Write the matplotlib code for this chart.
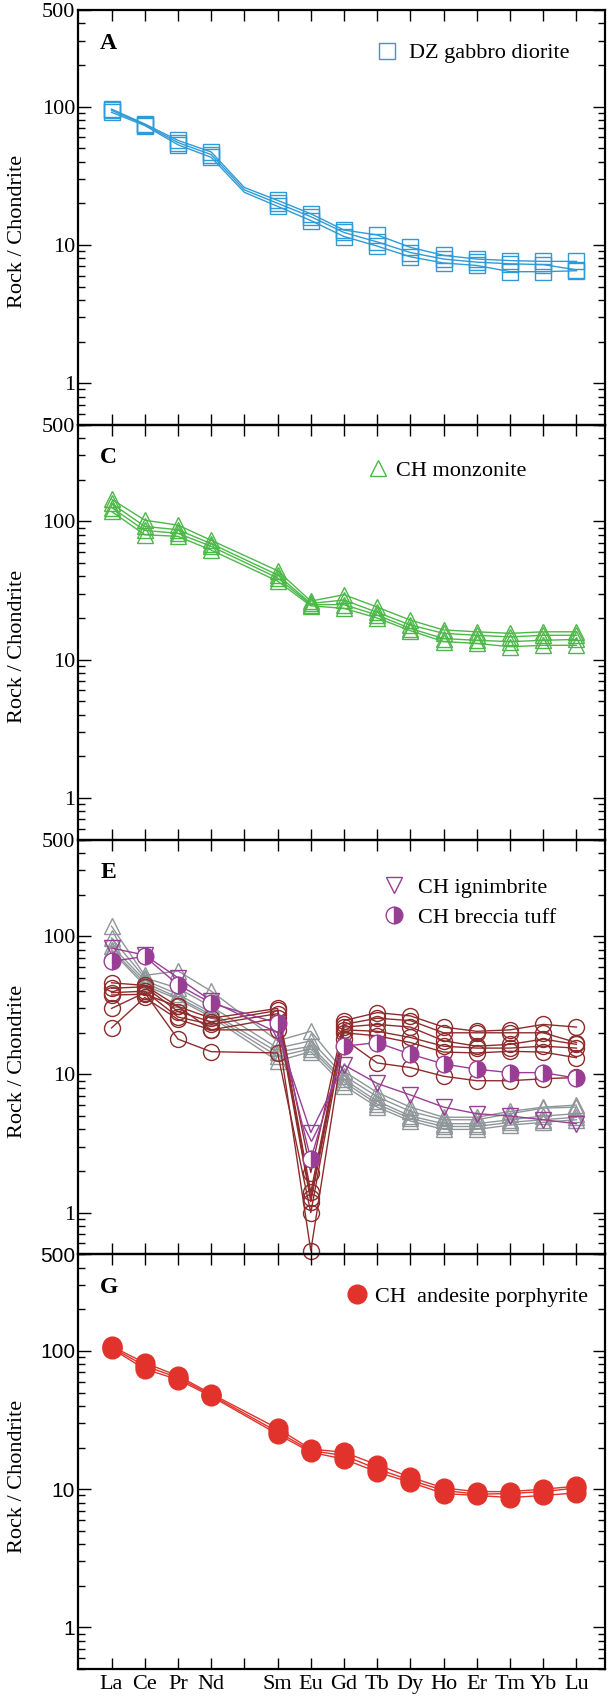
import numpy as np
import matplotlib.pyplot as plt
from matplotlib.lines import Line2D
from matplotlib.ticker import FixedLocator, LogLocator, NullFormatter, FixedFormatter

plt.rcParams['font.family'] = ['Liberation Serif', 'DejaVu Serif']

ree = ['La', 'Ce', 'Pr', 'Nd', 'Pm', 'Sm', 'Eu', 'Gd', 'Tb', 'Dy', 'Ho', 'Er', 'Tm', 'Yb', 'Lu']
ree_no_pm = ['La', 'Ce', 'Pr', 'Nd', 'Sm', 'Eu', 'Gd', 'Tb', 'Dy', 'Ho', 'Er', 'Tm', 'Yb', 'Lu']
tick_labels = ['La', 'Ce', 'Pr', 'Nd', '', 'Sm', 'Eu', 'Gd', 'Tb', 'Dy', 'Ho', 'Er', 'Tm', 'Yb', 'Lu']
y_ticks = [1, 10, 100, 500]
y_tick_labels = ['1', '10', '100', '500']

# A - DZ gabbro diorite (La..Lu with Pm)
dz_gabbro = [
    [96, 75, 57, 47, 26, 21, 16.8, 12.8, 11.8, 9.6, 8.4, 7.9, 7.7, 7.6, 7.6],
    [94, 74, 55, 45, 25, 20, 16.0, 12.3, 10.5, 8.8, 7.9, 7.5, 7.3, 7.2, 6.6],
    [91, 73, 53, 43, 24, 19, 15.0, 11.5, 9.8, 8.2, 7.4, 7.1, 6.4, 6.4, 6.5],
]

# C - CH monzonite (no Pm)
ch_monzonite = [
    [145, 102, 94, 73, 44, 26.5, 29.5, 24, 19.3, 16.4, 15.9, 15.5, 15.9, 15.9],
    [135, 92, 87, 69, 41, 25.5, 27, 22, 17.8, 15.5, 15.0, 14.6, 15.0, 15.0],
    [126, 86, 82, 66, 39, 25, 25, 21, 16.8, 14.2, 13.8, 13.5, 13.8, 14.0],
    [118, 80, 78, 62, 37, 24.5, 23.5, 20, 16.2, 13.5, 13.1, 12.4, 12.7, 12.7],
]

# E - grey triangles
grey_tri = [
    [118, 52, 56, 40, 17.5, 20.5, 10.5, 7.4, 5.8, 4.9, 4.9, 5.4, 5.8, 6.0],
    [97, 50, 42, 31, 15.5, 17.5, 9.8, 6.9, 5.4, 4.7, 4.7, 5.2, 5.7, 5.8],
    [85, 48, 38, 28, 14.5, 16, 9.2, 6.4, 5.0, 4.4, 4.4, 4.7, 5.0, 5.2],
    [80, 46, 36, 27, 13.5, 15.3, 8.8, 6.1, 4.8, 4.2, 4.2, 4.5, 4.7, 4.9],
    [78, 44, 35, 26, 12.5, 14.6, 8.3, 5.8, 4.6, 4.0, 4.0, 4.3, 4.5, 4.7],
]
# E - dark red open circles
red_circ = [
    [46, 44, 31, 25.5, 30, 1.95, 24.5, 28, 26.5, 22, 20.5, 21, 23, 22],
    [42, 43, 28.5, 24, 29, 1.4, 23, 25.5, 24.5, 20, 20, 20, 20, 17],
    [39, 40, 26, 23, 27.5, 1.28, 22, 23, 22, 17.5, 16, 16.5, 18, 16.5],
    [37.5, 38, 31, 21, 25.5, 1.2, 21, 20.5, 18.5, 16, 15.5, 15.5, 16, 15.5],
    [30, 39, 18, 14.6, 14.3, 1.0, 20, 19, 17, 14.5, 14.3, 14.7, 14.5, 13.2],
    [21.7, 36, 25, 21, 21, 0.53, 18, 12.1, 11.2, 9.7, 9.0, 9.0, 9.3, 9.5],
]
ch_ignimbrite = [82, 73, 50, 34, 20, 3.8, 11.7, 8.6, 7.1, 5.8, 5.2, 5.0, 4.7, 4.4]
ch_breccia_tuff = [65.6, 71.4, 44.5, 32.8, 23.5, 2.43, 16, 17, 14, 11.9, 10.9, 10.3, 10.3, 9.4]

# G - CH andesite porphyrite
ch_andesite = [
    [108, 82, 66, 49, 27.5, 19.5, 18.5, 15, 12.2, 10.2, 9.6, 9.6, 10, 10.5],
    [106, 78, 64, 48, 26, 19, 17.5, 14, 11.6, 9.8, 9.2, 9.3, 9.6, 10.2],
    [104, 74, 62, 47, 25, 18.5, 16.5, 13.3, 11.2, 9.3, 9.0, 8.7, 9.0, 9.4],
]

blue = '#2E9BD6'
green = '#4CB848'
dark_red = '#8E2C2C'
grey = '#8F9699'
purple = '#9A3E95'
red = '#E1322B'

pos = {e: i + 1 for i, e in enumerate(ree)}
x_all = [pos[e] for e in ree]
x_nopm = [pos[e] for e in ree_no_pm]

fig, axs = plt.subplots(4, 1, sharex=True, figsize=(6.08, 16.96), dpi=100)
fig.subplots_adjust(left=0.1283, right=0.9951, top=0.9941, bottom=0.0159, hspace=0)

# panel A
ax = axs[0]
for s in dz_gabbro:
    ax.plot(x_all, s, color=blue, lw=1.0, marker='s', ms=12, mfc='none', mec=blue, mew=1.0,
            markevery=[i for i, e in enumerate(ree) if e != 'Pm'])

# panel C
ax = axs[1]
for s in ch_monzonite:
    ax.plot(x_nopm, s, color=green, lw=1.0, marker='^', ms=12, mfc='none', mec=green, mew=1.0)

# panel E
ax = axs[2]
for s in grey_tri:
    ax.plot(x_nopm, s, color=grey, lw=1.0, marker='^', ms=11, mfc='none', mec=grey, mew=1.0)
for s in red_circ:
    ax.plot(x_nopm, s, color=dark_red, lw=1.0, marker='o', ms=11.5, mfc='none', mec=dark_red,
            mew=1.0, clip_on=False)
ax.plot(x_nopm, ch_ignimbrite, color=purple, lw=1.0, marker='v', ms=11.5, mfc='none', mec=purple, mew=1.0)
ax.plot(x_nopm, ch_breccia_tuff, color=purple, lw=1.0, marker='o', ms=12, fillstyle='right',
        mfc=purple, mfcalt='white', mec=purple, mew=1.0)

# panel G
ax = axs[3]
for s in ch_andesite:
    ax.plot(x_nopm, s, color=red, lw=1.0, marker='o', ms=13.5, mfc=red, mec=red, mew=1.0)

legend_kw = dict(frameon=False, fontsize=16, handlelength=1, borderpad=0, borderaxespad=0,
                 loc='center left', numpoints=1)
axs[0].legend(handles=[Line2D([], [], ls='none', marker='s', ms=12, mfc='none', mec=blue, mew=1)],
              labels=['DZ gabbro diorite'], bbox_to_anchor=(0.565, 0.896), handletextpad=0.5, **legend_kw)
axs[1].legend(handles=[Line2D([], [], ls='none', marker='^', ms=12, mfc='none', mec=green, mew=1)],
              labels=['CH monzonite'], bbox_to_anchor=(0.548, 0.89), handletextpad=0.3, **legend_kw)
axs[2].legend(handles=[Line2D([], [], ls='none', marker='v', ms=12, mfc='none', mec=purple, mew=1),
                       Line2D([], [], ls='none', marker='o', ms=12, fillstyle='right', mfc=purple,
                              mfcalt='white', mec=purple, mew=1)],
              labels=['CH ignimbrite', 'CH breccia tuff'], bbox_to_anchor=(0.579, 0.848),
              handletextpad=0.55, labelspacing=0.45, **legend_kw)
axs[3].legend(handles=[Line2D([], [], ls='none', marker='o', ms=13.5, mfc=red, mec=red, mew=1)],
              labels=['CH  andesite porphyrite'], bbox_to_anchor=(0.509, 0.898), handletextpad=0.3, **legend_kw)

for ax, letter in zip(axs, ['A', 'C', 'E', 'G']):
    ax.set_facecolor('none')
    ax.set_yscale('log')
    ax.set_ylim(0.5, 500)
    ax.set_xlim(-0.01, 15.86)
    ax.yaxis.set_major_locator(FixedLocator(y_ticks))
    ax.yaxis.set_major_formatter(FixedFormatter(y_tick_labels))
    ax.yaxis.set_minor_locator(LogLocator(base=10, subs=np.arange(2, 10), numticks=20))
    ax.yaxis.set_minor_formatter(NullFormatter())
    ax.set_xticks(x_all)
    ax.tick_params(axis='x', which='major', direction='in', top=True, bottom=True, length=8, width=1.0,
                   labelsize=16, pad=4)
    ax.tick_params(axis='y', which='major', direction='in', left=True, right=True, length=9, width=1.0,
                   labelsize=16, pad=2)
    ax.tick_params(axis='y', which='minor', direction='in', left=True, right=True, length=5, width=1.0)
    for sp in ax.spines.values():
        sp.set_linewidth(1.6)
    ax.set_ylabel('Rock / Chondrite', fontsize=16)
    ax.yaxis.set_label_coords(-0.097, 0.465)
    ax.text(0.042, 0.92, letter, transform=ax.transAxes, fontsize=17, fontweight='bold',
            ha='left', va='center')

axs[3].set_xticklabels(tick_labels)
for t in axs[3].get_yticklabels():
    t.set_fontfamily('Liberation Sans')
    t.set_fontsize(15)

plt.savefig('out.png', dpi=100, facecolor='white')
